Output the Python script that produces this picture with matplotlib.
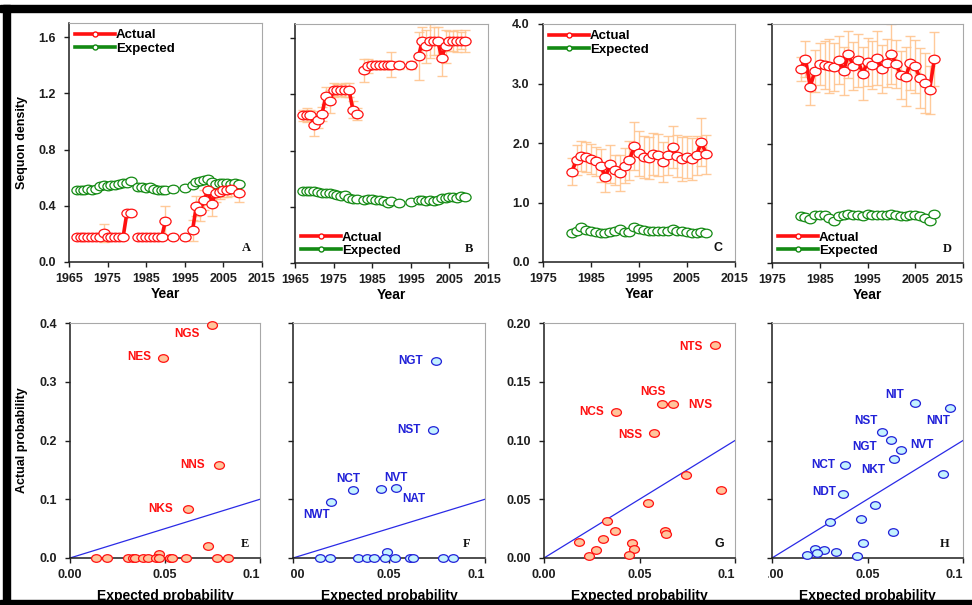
import numpy as np
import matplotlib
matplotlib.use("Agg")
import matplotlib.pyplot as plt
from matplotlib.markers import MarkerStyle
from matplotlib.transforms import Affine2D
from matplotlib.lines import Line2D
from matplotlib.patches import Rectangle

nan = np.nan

# ---- top row: sequon density by year ----
years_ab = list(range(1967, 2010))
years_cd = list(range(1981, 2010))

act_a = [.175, .175, .175, .175, .175, .175, .175, .205, .175, .175, .175, .175, .175, .35, .35,
         nan, .175, .175, .175, .175, .175, .175, .175, .295, nan, .175, nan, nan, .175, nan,
         .225, .40, .365, .44, .51, .415, .49, .50, .515, .51, .52, nan, .49]
err_a = [0, 0, 0, 0, 0, 0, 0, .065, 0, 0, 0, 0, 0, 0, 0,
         nan, 0, 0, 0, 0, 0, 0, 0, .10, nan, 0, nan, nan, 0, nan,
         .075, .07, .07, .07, .05, .085, .06, .05, .05, .05, .05, nan, .065]
exp_a = [.51, .51, .515, .52, .515, .52, .54, .545, .54, .55, .55, .555, .56, .565, .575,
         nan, .53, .53, .525, .53, .52, .51, .515, .515, nan, .52, nan, nan, .525, nan,
         .55, .57, .575, .585, .59, .57, .555, .56, .565, .56, .555, .56, .555]

act_b = [1.05, 1.05, 1.05, .98, 1.02, 1.06, 1.19, 1.15, 1.23, 1.23, 1.23, 1.23, 1.23, 1.09, 1.06,
         nan, 1.37, 1.40, 1.41, 1.41, 1.41, 1.41, 1.41, 1.41, nan, 1.41, nan, nan, 1.41, nan,
         1.47, 1.58, 1.54, 1.58, 1.58, 1.58, 1.46, 1.54, 1.58, 1.58, 1.58, 1.58, 1.58]
err_b = [.04, .05, .04, .08, .06, .05, .06, .08, .05, .04, .04, .05, .05, .06, .04,
         nan, .08, .05, .03, .03, .03, .03, .03, .09, nan, .03, nan, nan, .03, nan,
         .17, .10, .12, .12, .10, .10, .13, .12, .07, .07, .08, .06, .08]
exp_b = [.51, .51, .515, .51, .505, .50, .495, .50, .49, .485, .48, .485, .46, .455, .455,
         nan, .45, .455, .455, .45, .45, .44, .43, .44, nan, .43, nan, nan, .435, nan,
         .45, .445, .44, .445, .44, .45, .46, .465, .47, .47, .465, .475, .47]

act_c = [1.52, 1.71, 1.78, 1.76, 1.73, 1.69, 1.62, 1.43, 1.64, 1.54, 1.49, 1.62, 1.71, 1.95, 1.83,
         1.77, 1.745, 1.81, 1.795, 1.68, 1.795, 1.935, 1.78, 1.73, 1.77, 1.73, 1.795, 2.02, 1.81]
err_c = [.22, .25, .25, .25, .25, .25, .28, .25, .32, .25, .30, .30, .33, .40, .38,
         .35, .35, .35, .35, .33, .33, .35, .35, .37, .35, .35, .33, .40, .33]
exp_c = [.48, .52, .58, .53, .52, .50, .48, .49, .50, .52, .55, .50, .50, .58, .55,
         .53, .52, .52, .52, .52, .52, .55, .52, .52, .51, .48, .48, .50, .49]

act_d = [3.24, 3.42, 2.95, 3.22, 3.33, 3.32, 3.30, 3.28, 3.40, 3.22, 3.49, 3.30, 3.39, 3.17, 3.36,
         3.31, 3.43, 3.25, 3.35, 3.50, 3.33, 3.14, 3.12, 3.35, 3.29, 3.09, 3.01, 2.90, 3.41]
err_d = [.20, .30, .30, .35, .35, .40, .45, .40, .40, .40, .40, .40, .45, .45, .40,
         .40, .45, .40, .40, .50, .40, .40, .50, .45, .45, .50, .50, .40, .45]
exp_d = [.78, .77, .73, .80, .80, .80, .76, .70, .79, .80, .82, .80, .81, .79, .82,
         .80, .80, .81, .81, .82, .80, .78, .78, .80, .80, .78, .76, .70, .82]

# ---- bottom row: actual vs expected probability ----
lab_e = ["NGS", "NES", "NNS", "NKS"]
ex_e = [.0746, .0491, .0784, .0623, .0728, .047, .0137, .0196, .0304, .033, .0342, .0382,
        .0412, .0453, .047, .0526, .0539, .0609, .0772, .0833]
ac_e = [.396, .340, .158, .083, .0205, .006, 0, 0, 0, 0, 0, 0, 0, 0, 0, 0, 0, 0, 0, 0]

lab_f = ["NGT", "NST", "NCT", "NVT", "NAT", "NWT"]
ex_f = [.0743, .0728, .0315, .0459, .0536, .0196, .0489, .0139, .0194, .0336, .0385, .042,
        .0477, .0532, .0607, .0624, .078, .0835]
ac_f = [.335, .218, .116, .117, .119, .096, .0096, 0, 0, 0, 0, 0, 0, 0, 0, 0, 0, 0]

lab_g = ["NTS", "NGS", "NVS", "NCS", "NSS"]
ex_g = [.0895, .062, .0673, .0379, .0575, .0743, .0925, .0542, .0332, .037, .031, .0182,
        .0274, .0236, .0463, .0472, .0446, .0631, .0638]
ac_g = [.181, .131, .131, .124, .106, .0709, .0582, .0466, .0316, .0232, .0158, .0133,
        .0065, .0014, .0127, .0079, .0023, .0232, .0206]

lab_h = ["NIT", "NNT", "NST", "NGT", "NVT", "NKT", "NCT", "NDT"]
ex_h = [.075, .093, .0578, .0625, .0674, .0639, .038, .037, .0895, .0541, .0305, .0466,
        .0632, .0475, .0227, .0274, .0335, .0236, .0183, .0443]
ac_h = [.1316, .1274, .107, .1001, .0922, .084, .0794, .0548, .0715, .0454, .0304, .0332,
        .0218, .0125, .0079, .0071, .0051, .0043, .0028, .002]

# label offsets in points (dx, dy, ha)
off_e = [(-9, -6, "right"), (-9, 1, "right"), (-10, 0, "right"), (-11, 0, "right")]
off_f = [(-9, 0, "right"), (-9, 0, "right"), (-4, 8, "center"), (11, 8, "center"),
         (13, -8, "center"), (-10, -10, "center")]
off_g = [(-9, -1, "right"), (-7, 9, "center"), (11, -1, "left"), (-9, 0, "right"), (-8, -1, "right")]
off_h = [(-15, 6, "center"), (-8, -9, "center"), (-12, 8, "center"), (-19, -5, "center"),
         (7, 3, "left"), (-15, -8, "center"), (-7, 0, "right"), (-5, 1, "right")]

RED = "#ff1010"
GREEN = "#138a13"
ERR = "#ffc58f"
PEACH = "#ffc59c"
CYAN = "#c4f2ff"
BLUE = "#2020d8"
DARK = "#1e1e1e"

plt.rcParams["font.family"] = ["Liberation Sans", "DejaVu Sans"]
plt.rcParams["font.weight"] = "bold"
plt.rcParams["axes.labelweight"] = "bold"

W, H = 972, 605
fig = plt.figure(figsize=(W / 100, H / 100), dpi=100)


def px_rect(l, t, r, b):
    return [l / W, 1 - b / H, (r - l) / W, (b - t) / H]


ell = MarkerStyle("o", transform=Affine2D().scale(1.3, 1.0))


def style(ax, xlim, xticks, xlabels, ylim, yticks, ylabels=None, last_right=False):
    ax.set_xlim(xlim)
    ax.set_ylim(ylim)
    ax.set_xticks(xticks)
    ax.set_xticklabels(xlabels, fontweight="bold")
    ax.set_yticks(yticks)
    ax.set_yticklabels(ylabels if ylabels else [], fontweight="bold")
    if last_right:
        ax.get_xticklabels()[-1].set_horizontalalignment("right")
    for s in ["top", "right"]:
        ax.spines[s].set_color("#a8a8a8")
    for s in ["left", "bottom"]:
        ax.spines[s].set_color(DARK)
        ax.spines[s].set_linewidth(1.1)
    ax.tick_params(direction="out", length=3.6, width=1, labelsize=9, colors=DARK)
    ax.tick_params(axis="y", pad=6)
    ax.tick_params(axis="x", pad=4)


def letter(ax, s, fx, serif=True):
    fam = ["Liberation Serif", "DejaVu Serif"] if serif else ["Liberation Sans", "DejaVu Sans"]
    ax.text(fx, 0.06, s, transform=ax.transAxes, ha="center", va="center",
            fontsize=9, fontweight="bold", family=fam, color="#111111")


def ts_panel(rect, years, act, err, exp, xlim, xticks, ylim, yticks, ylabels, loc, tag, fx,
             serif, last_right=False):
    ax = fig.add_axes(px_rect(*rect))
    ax.errorbar(years, act, yerr=err, fmt="none", ecolor=ERR, elinewidth=1,
                capsize=3.5, capthick=1, alpha=0.9, zorder=1)
    ax.plot(years, exp, color=GREEN, lw=2, marker=ell, ms=6.2, mfc="white",
            mec=GREEN, mew=0.9, zorder=2)
    ax.plot(years, act, color=RED, lw=2.6, marker=ell, ms=6.2, mfc="white",
            mec=RED, mew=0.9, zorder=3)
    style(ax, xlim, xticks, [str(t) for t in xticks], ylim, yticks, ylabels, last_right)
    handles = [Line2D([], [], color=RED, lw=2.6, marker="o", ms=3.6, mfc="white", mec=RED),
               Line2D([], [], color=GREEN, lw=2.6, marker="o", ms=3.6, mfc="white", mec=GREEN)]
    ax.legend(handles, ["Actual", "Expected"], loc=loc, frameon=False, fontsize=9.5,
              handlelength=3.0, handletextpad=0.1, labelspacing=0.1, borderaxespad=0.25,
              borderpad=0.2, numpoints=1)
    ax.set_xlabel("Year", fontsize=10)
    ax.xaxis.set_label_coords(0.5, -0.105)
    letter(ax, tag, fx, serif)
    return ax


def sc_panel(rect, ex, ac, labels, offs, face, edge, tcol, ylim, yticks, ylabels, tag, fx, serif):
    ax = fig.add_axes(px_rect(*rect))
    ax.plot([0, 0.1], [0, 0.1], color="#2a2ae6", lw=0.9, zorder=1)
    ax.scatter(ex, ac, marker=ell, s=30, facecolor=face, edgecolor=edge, linewidths=0.9,
               zorder=3, clip_on=False)
    for lab, x, y, (dx, dy, ha) in zip(labels, ex, ac, offs):
        ax.annotate(lab, (x, y), xytext=(dx, dy), textcoords="offset points", ha=ha,
                    va="center", color=tcol, fontsize=8.5, fontweight="bold")
    style(ax, (0, 0.1), [0, 0.05, 0.1], ["0.00", "0.05", "0.1"], ylim, yticks, ylabels, True)
    ax.set_xlabel("Expected probability", fontsize=10)
    ax.xaxis.set_label_coords(0.5, -0.13)
    letter(ax, tag, fx, serif)
    return ax


yt16 = [0, 0.4, 0.8, 1.2, 1.6]
yt4 = [0, 1, 2, 3, 4]
xt_ab = [1965, 1975, 1985, 1995, 2005, 2015]
xt_cd = [1975, 1985, 1995, 2005, 2015]

ax_a = ts_panel((69, 23, 262, 262), years_ab, act_a, err_a, exp_a, (1965, 2015), xt_ab, (0, 1.7),
                yt16, ["0.0", "0.4", "0.8", "1.2", "1.6"], "upper left", "A", 0.92, True)
ax_a.set_ylabel("Sequon density", fontsize=9)
ax_a.yaxis.set_label_coords(-0.215, 0.5)
ts_panel((295, 24, 488, 263), years_ab, act_b, err_b, exp_b, (1965, 2015), xt_ab, (0, 1.7),
         yt16, None, "lower left", "B", 0.90, True)
ts_panel((543, 24, 735, 262), years_cd, act_c, err_c, exp_c, (1975, 2015), xt_cd, (0, 4),
         yt4, ["0.0", "1.0", "2.0", "3.0", "4.0"], "upper left", "C", 0.91, False)
ts_panel((772, 24, 963, 263), years_cd, act_d, err_d, exp_d, (1975, 2015), xt_cd, (0, 4),
         yt4, None, "lower left", "D", 0.92, True, last_right=True)

ax_e = sc_panel((70, 323, 260, 558), ex_e, ac_e, lab_e, off_e, PEACH, RED, RED, (0, 0.4),
                [0, .1, .2, .3, .4], ["0.0", "0.1", "0.2", "0.3", "0.4"], "E", 0.92, True)
ax_e.set_ylabel("Actual probability", fontsize=9)
ax_e.yaxis.set_label_coords(-0.22, 0.5)
sc_panel((293, 323, 485, 558), ex_f, ac_f, lab_f, off_f, CYAN, BLUE, BLUE, (0, 0.4),
         [0, .1, .2, .3, .4], None, "F", 0.905, True)
sc_panel((544, 323, 735, 558), ex_g, ac_g, lab_g, off_g, PEACH, RED, RED, (0, 0.2),
         [0, .05, .1, .15, .2], ["0.00", "0.05", "0.10", "0.15", "0.20"], "G", 0.92, False)
sc_panel((772, 323, 963, 558), ex_h, ac_h, lab_h, off_h, CYAN, BLUE, BLUE, (0, 0.2),
         [0, .05, .1, .15, .2], None, "H", 0.905, True)

# panels were pasted side by side: the first tick label of F and H is trimmed
for l, r in [(264, 289), (741, 767)]:
    fig.add_artist(Rectangle((l / W, 1 - 585 / H), (r - l) / W, 23 / H,
                             transform=fig.transFigure, color="white", zorder=5))

# black frame along the top, left and bottom
for (l, t, r, b) in [(0, 5, 972, 12), (3, 5, 10, 605), (0, 600, 972, 605)]:
    fig.add_artist(Rectangle((l / W, 1 - b / H), (r - l) / W, (b - t) / H,
                             transform=fig.transFigure, color="black", zorder=6))

fig.savefig("out.png", dpi=100, facecolor="white")
